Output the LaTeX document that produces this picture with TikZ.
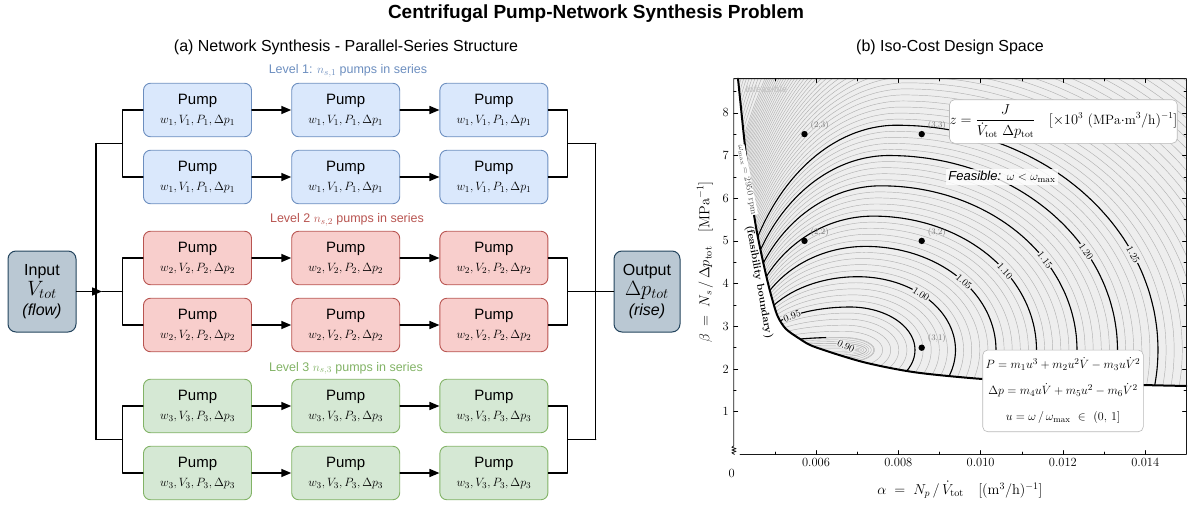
\documentclass[tikz,border=0pt]{standalone}
\usepackage{amsmath}
\usepackage{fontspec}
\setsansfont{Liberation Sans}
\usetikzlibrary{arrows}
\usetikzlibrary{arrows.meta}
\usetikzlibrary{positioning}

\definecolor{blueFill}{HTML}{DAE8FC}
\definecolor{blueLine}{HTML}{6C8EBF}
\definecolor{redFill}{HTML}{F8CECC}
\definecolor{redLine}{HTML}{B85450}
\definecolor{greenFill}{HTML}{D5E8D4}
\definecolor{greenLine}{HTML}{82B366}
\definecolor{ioFill}{HTML}{BAC8D3}
\definecolor{ioLine}{HTML}{23445D}
\definecolor{feasFill}{HTML}{EEEEEE}

\tikzset{
  pump/.style={draw, rounded corners=7pt, line width=0.9pt, minimum width=108pt,
    minimum height=53.5pt, inner sep=0pt, align=center, font=\sffamily\fontsize{15}{19}\selectfont},
  lvl1/.style={pump, fill=blueFill, draw=blueLine},
  lvl2/.style={pump, fill=redFill, draw=redLine},
  lvl3/.style={pump, fill=greenFill, draw=greenLine},
  iobox/.style={draw=ioLine, fill=ioFill, rounded corners=8pt, line width=1pt, minimum height=81pt,
    inner sep=0pt, align=center, font=\sffamily\fontsize{16}{20}\selectfont},
  lvltxt/.style={font=\sffamily\fontsize{12.5}{15}\selectfont},
  subtitle/.style={font=\sffamily\fontsize{16}{19}\selectfont},
  pipe/.style={line width=1.1pt},
  flow/.style={line width=1.5pt, ->},
  isoline/.style={gray!60, line width=0.45pt},
  isomain/.style={black, line width=1.1pt},
  clab/.style={fill=feasFill, inner sep=0.6pt, font=\rmfamily\fontsize{10}{11}\selectfont},
  ptlab/.style={text=black!55, inner sep=0pt, font=\rmfamily\fontsize{8.5}{9}\selectfont},
  ticklab/.style={inner sep=1pt, font=\rmfamily\fontsize{12.5}{14}\selectfont},
  legbox/.style={draw=gray!55, fill=white, rounded corners=5pt, line width=0.6pt, inner sep=0pt, align=center},
}

% feasibility boundary omega = omega_max
\newcommand{\bdrypath}{plot[smooth] coordinates {(738,78.6) (741,108) (744,137) (748.5,177) (756.5,230)
  (766.5,277) (773,302) (778,317) (786,329) (800,339) (815,347) (863,362) (913,372) (970,378)
  (1023,381.5) (1100,384) (1186.4,386)}}

\begin{document}
\begin{tikzpicture}[line cap=round,line join=round,>={Triangle[length=10pt,width=8pt]},x=1pt,y=-1pt]
\useasboundingbox (0,0) rectangle (1192,506);

\node[font=\sffamily\bfseries\fontsize{19}{23}\selectfont] (title) at (596,14) {Centrifugal Pump-Network Synthesis Problem};
\node[subtitle] (titleA) at (346,47) {(a) Network Synthesis - Parallel-Series Structure};
\node[subtitle] (titleB) at (950,47) {(b) Iso-Cost Design Space};

% ---- (a) network ----
\node[lvltxt, text=blueLine] (lev1) at (348,71) {Level 1: $n_{s,1}$ pumps in series};
\node[lvltxt, text=redLine] (lev2) at (347,219.5) {Level 2 $n_{s,2}$ pumps in series};
\node[lvltxt, text=greenLine] (lev3) at (346,368.3) {Level 3 $n_{s,3}$ pumps in series};

\foreach \lv in {1,2,3}
  \foreach \r in {1,2}
    \foreach \c in {1,2,3}
      \node[lvl\lv] (p\lv\r\c) at ({49.3+148.2*\c},{110+148*(\lv-1)+67*(\r-1)})
        {Pump\\{\fontsize{12.5}{15}\selectfont$w_\lv,V_\lv,P_\lv,\Delta p_\lv$}};

\node[iobox, minimum width=68pt] (in) at (42,291.5)
  {Input\\{\fontsize{22}{20}\selectfont$V_{tot}$}\\\textit{(flow)}};
\node[iobox, minimum width=66pt] (out) at (647,291.5)
  {Output\\{\fontsize{21}{20}\selectfont$\Delta p_{tot}$}\\\textit{(rise)}};

\foreach \lv in {1,2,3} {
  \coordinate (sl\lv) at (122.6,{143.5+148*(\lv-1)});
  \coordinate (bl\lv) at (96,{143.5+148*(\lv-1)});
  \coordinate (sr\lv) at (567.8,{143.5+148*(\lv-1)});
  \coordinate (br\lv) at (595.8,{143.5+148*(\lv-1)});
}
\coordinate (tip) at (102,291.5);

\foreach \lv in {1,2,3} {
  \foreach \r in {1,2} {
    \draw[flow] (p\lv\r1) -- (p\lv\r2);
    \draw[flow] (p\lv\r2) -- (p\lv\r3);
  }
  \draw[pipe] (p\lv11.west) -| (sl\lv) |- (p\lv21.west);
  \draw[pipe] (p\lv13.east) -| (sr\lv) |- (p\lv23.east);
  \draw[pipe] (sr\lv) -- (br\lv);
}
\draw[pipe] (bl1) -- (bl3);
\draw[pipe] (bl1) -- (sl1);
\draw[pipe] (bl3) -- (sl3);
\draw[flow] (in) -- (tip);
\draw[pipe] (tip) -- (sl2);
\draw[pipe] (br1) -- (br3);
\draw[pipe] (br2) -- (out);

% ---- (b) iso-cost map ----
\fill[feasFill] \bdrypath -- (1186.4,78.6) -- cycle;
\begin{scope}
\clip \bdrypath -- (1186.4,78.6) -- cycle;
\foreach \s in {-1.2,-1.0,...,13.0,13.4,13.8,...,16.6} {
  \pgfmathsetmacro\cx{850+7.8*\s}
  \pgfmathsetmacro\by{43+30.3*\s}
  \pgfmathsetmacro\ar{65+32.7*\s}
  \pgfmathsetmacro\al{95+11*\s}
  \draw[isoline] plot[smooth, domain=-90:270, samples=73, variable=\t]
    ({\cx+ifthenelse(cos(\t)>0,\ar,\al)*cos(\t)},{350-\by*sin(\t)});
}
% dense lines round the minimum
\foreach \s in {-1.38,-1.32,...,-1.0} {
  \pgfmathsetmacro\cx{850+7.8*\s}
  \pgfmathsetmacro\by{43+30.3*\s}
  \pgfmathsetmacro\ar{65+32.7*\s}
  \pgfmathsetmacro\al{95+11*\s}
  \draw[isoline, line width=0.35pt] plot[smooth, domain=-90:270, samples=73, variable=\t]
    ({\cx+ifthenelse(cos(\t)>0,\ar,\al)*cos(\t)},{350-\by*sin(\t)});
}
\foreach \s in {0,...,6} {
  \pgfmathsetmacro\cx{850+7.8*\s}
  \pgfmathsetmacro\by{43+30.3*\s}
  \pgfmathsetmacro\ar{65+32.7*\s}
  \pgfmathsetmacro\al{95+11*\s}
  \draw[isomain] plot[smooth, domain=-90:270, samples=73, variable=\t]
    ({\cx+ifthenelse(cos(\t)>0,\ar,\al)*cos(\t)},{350-\by*sin(\t)});
}
\clip (790,320) rectangle (826,350);
\draw[isomain] plot[smooth, domain=90:180, samples=25, variable=\t]
  ({842.2+84*cos(\t)},{350-12.7*sin(\t)});
\end{scope}

\node[clab, rotate=-25] (c090) at (846,346) {0.90};
\node[clab, rotate=20] (c095) at (792,316) {0.95};
\node[clab, rotate=-32] (c100) at (921,294) {1.00};
\node[clab, rotate=-42] (c105) at (964,282) {1.05};
\node[clab, rotate=-48] (c110) at (1005,271) {1.10};
\node[clab, rotate=-52] (c115) at (1045,260) {1.15};
\node[clab, rotate=-55] (c120) at (1086,251.5) {1.20};
\node[clab, rotate=-61] (c125) at (1133,254.5) {1.25};

\foreach \nm/\px/\py/\lab in {d23/804.5/134.1/{(2,3)}, d33/921.7/134.1/{(3,3)},
    d22/804.5/240.9/{(2,2)}, d32/921.7/240.9/{(3,2)}, d31/921.7/347.7/{(3,1)}} {
  \fill (\px,\py) circle (3.2pt);
  \node[ptlab, anchor=west] (\nm) at ({\px+6},{\py-9}) {\lab};
}

\draw[line width=2pt] \bdrypath;
\node[font=\sffamily\itshape\bfseries\fontsize{9}{10}\selectfont, text=gray!45] (infz) at (766,89) {Infeasible};
\node[fill=white, inner sep=0.5pt, text=gray!60!black, rotate=-79,
  font=\rmfamily\fontsize{9}{10}\selectfont] (wmax) at (747,180) {$\omega_{\max}=2950$ rpm};
\node[rotate=-80, font=\rmfamily\bfseries\fontsize{10.5}{12}\selectfont] (fbd) at (759,282) {(feasibility boundary)};

\node[fill=white, fill opacity=0.8, text opacity=1, inner sep=2pt,
  font=\fontsize{13}{15}\selectfont] (feas) at (1002,177) {{\sffamily\itshape Feasible:} $\omega<\omega_{\max}$};

\node[legbox, minimum width=225pt, minimum height=43.6pt, font=\fontsize{13.5}{16}\selectfont] (zbox) at (1063.4,121.5)
  {$z=\dfrac{J}{\dot V_{\mathrm{tot}}\ \Delta p_{\mathrm{tot}}}\quad[\times10^3\ (\mathrm{MPa{\cdot}m^3/h})^{-1}]$};
\node[legbox, minimum width=160.6pt, minimum height=81.7pt, font=\fontsize{12.5}{26}\selectfont] (mbox) at (1063,390.9)
  {$P=m_1u^3+m_2u^2\dot V-m_3u\dot V^2$\\$\Delta p=m_4u\dot V+m_5u^2-m_6\dot V^2$\\$u=\omega\,/\,\omega_{\max}\ \in\ (0,\,1]$};

% frame, axis break, ticks
\draw[line width=0.8pt, gray!20!black] (740,454.4) -- (1186.4,454.4) -- (1186.4,78.6) -- (733.7,78.6) -- (733.7,446)
  -- (731.8,447.2) -- (736,448.6) -- (731.8,450) -- (736,451.4) -- (731.8,452.8) -- (734.5,454.4);
\foreach \a/\lab in {6/0.006,8/0.008,10/0.010,12/0.012,14/0.014} {
  \draw[line width=0.6pt] ({816+41.15*(\a-6)},454.4) -- ++(0,-4);
  \draw[line width=0.6pt] ({816+41.15*(\a-6)},78.6) -- ++(0,4);
  \node[ticklab, anchor=north] (xt\a) at ({816+41.15*(\a-6)},457) {\lab};
}
\foreach \a in {5,7,9,11,13} {
  \draw[line width=0.5pt] ({816+41.15*(\a-6)},454.4) -- ++(0,-2.5);
  \draw[line width=0.5pt] ({816+41.15*(\a-6)},78.6) -- ++(0,2.5);
}
\foreach \b in {1,...,8} {
  \draw[line width=0.6pt] (733.7,{454.4-42.7*\b}) -- ++(4,0);
  \draw[line width=0.6pt] (1186.4,{454.4-42.7*\b}) -- ++(-4,0);
  \node[ticklab, anchor=east] (yt\b) at (730,{454.4-42.7*\b}) {\b};
}
\foreach \b in {1.5,2.5,...,8.5} {
  \draw[line width=0.5pt] (733.7,{454.4-42.7*\b}) -- ++(2.5,0);
  \draw[line width=0.5pt] (1186.4,{454.4-42.7*\b}) -- ++(-2.5,0);
}
\node[ticklab] (zero) at (731.7,473) {0};
\node[rotate=90, font=\fontsize{14.5}{16}\selectfont] (ylab) at (705,262)
  {$\beta\;=\;N_s\,/\,\Delta p_{\mathrm{tot}}\quad[\mathrm{MPa}^{-1}]$};
\node[font=\fontsize{14.5}{16}\selectfont] (xlab) at (960,490)
  {$\alpha\;=\;N_p\,/\,\dot V_{\mathrm{tot}}\quad[(\mathrm{m}^3/\mathrm{h})^{-1}]$};
\end{tikzpicture}
\end{document}
